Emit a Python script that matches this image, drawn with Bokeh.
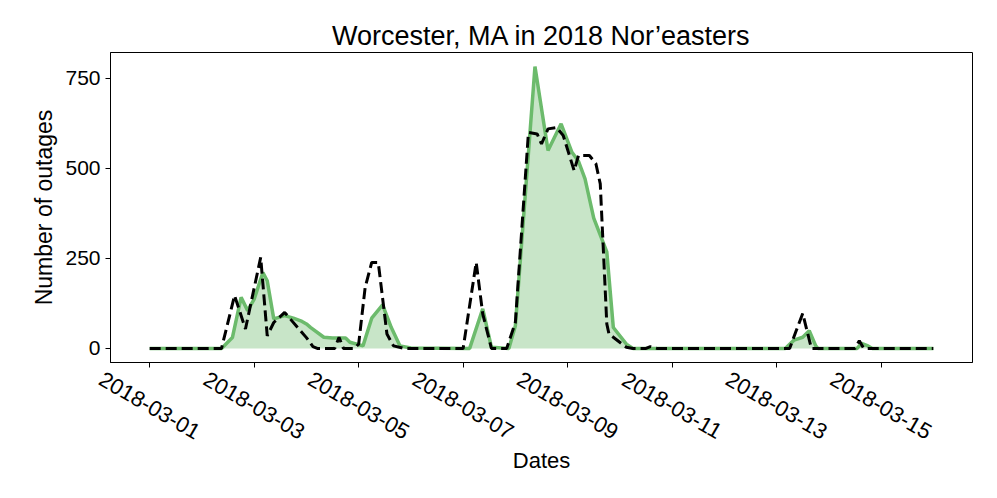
import numpy as np
import pandas as pd
from bokeh.plotting import figure
from bokeh.layouts import column
from bokeh.models import Range1d, FixedTicker
from bokeh.core.properties import value
from bokeh.embed import file_html
from bokeh.resources import INLINE

start = pd.Timestamp("2018-03-01")

# observed outages (green), hours since 2018-03-01 00:00
obs_hours = [0, 33, 38, 42, 45, 48, 52, 54, 57, 62, 66, 70, 72, 74, 80, 84, 90, 92, 98,
             102, 107, 111, 115, 120, 147, 153, 157, 165, 168, 177, 183, 189, 194, 197,
             200, 204, 210, 213, 219, 222, 292, 296, 300, 303, 306, 307, 325, 327, 330,
             332, 360]
obs_values = [0, 0, 30, 142, 105, 137, 211, 188, 82, 91, 84, 75, 68, 58, 31, 29, 29, 17, 7,
              84, 121, 58, 7, 1, 0, 110, 3, 0, 63, 783, 550, 624, 545, 520,
              471, 362, 268, 58, 12, 0, 0, 23, 31, 49, 7, 0, 0, 14, 7,
              0, 0]

# predicted outages (black dashed)
pred_hours = [0, 33, 39, 44, 51, 54, 57, 62, 68, 72, 75, 77, 85, 87, 89, 94, 96, 99, 102,
              105, 109, 112, 117, 144, 150, 153, 157, 164, 168, 174, 178, 180, 183, 187,
              190, 195, 197, 202, 205, 207, 208, 210, 211, 219, 222, 228, 230, 233, 294,
              297, 300, 304, 324, 326, 328, 360]
pred_values = [0, 0, 147, 54, 253, 35, 72, 100, 58, 30, 5, 0, 0, 31, 0, 0, 12, 170, 239,
               239, 40, 7, 0, 0, 239, 96, 0, 0, 72, 600, 596, 568, 610, 614,
               591, 494, 536, 536, 513, 457, 327, 68, 40, 3, 0, 0, 5, 0, 0,
               49, 97, 0, 0, 21, 0, 0]

tick_dates = ["2018-03-01", "2018-03-03", "2018-03-05", "2018-03-07",
              "2018-03-09", "2018-03-11", "2018-03-13", "2018-03-15"]
y_ticks = [0, 250, 500, 750]

obs_x = [start + pd.Timedelta(hours=h) for h in obs_hours]
pred_x = [start + pd.Timedelta(hours=h) for h in pred_hours]

def ms(t):
    return pd.Timestamp(t).value / 1e6

tick_ms = [ms(d) for d in tick_dates]
x0 = ms(start)
x1 = ms(start + pd.Timedelta(hours=360))
xpad = (x1 - x0) * 0.05
ymax = max(obs_values)
ypad = ymax * 0.05

FONT = "Liberation Sans"
W = 981
LEFT, RIGHT, TOP = 110, 9, 52
H1, BOTTOM1 = 368, 6
H2 = 114

xa, xb = x0 - xpad, x1 + xpad

p = figure(width=W, height=H1, x_axis_type="datetime",
           output_backend="svg", toolbar_location=None,
           x_range=Range1d(xa, xb),
           y_range=Range1d(-ypad, ymax + ypad),
           min_border_left=LEFT, min_border_right=RIGHT,
           min_border_top=TOP, min_border_bottom=BOTTOM1,
           title="Worcester, MA in 2018 Nor\u2019easters")
p.frame_align = False

p.title.text_font = FONT
p.title.text_font_size = "27px"
p.title.text_font_style = "normal"
p.title.align = "center"
p.title.text_color = "black"
p.title.standoff = 4

p.varea(x=obs_x, y1=[0] * len(obs_x), y2=obs_values, fill_color="#c8e5c8", fill_alpha=1.0)
p.line(obs_x, obs_values, line_color="#6cbb6c", line_width=3.5)
p.line(pred_x, pred_values, line_color="black", line_width=3, line_dash="11 5")

p.xgrid.visible = False
p.ygrid.visible = False
p.outline_line_color = "black"
p.outline_line_width = 1
p.outline_line_alpha = 1.0

# x axis: tick marks only; the rotated date labels are drawn centred under them below
p.xaxis.ticker = FixedTicker(ticks=tick_ms)
p.xaxis.major_label_overrides = {t: "" for t in tick_ms}
p.xaxis.major_label_text_font_size = "0px"
p.xaxis.major_label_standoff = 0
p.yaxis.ticker = FixedTicker(ticks=y_ticks)

for ax in (p.xaxis, p.yaxis):
    ax.axis_line_color = "black"
    ax.major_tick_line_color = "black"
    ax.major_tick_in = 0
    ax.major_tick_out = 5
    ax.minor_tick_line_color = None

p.yaxis.major_label_text_font = FONT
p.yaxis.major_label_text_font_size = "21px"
p.yaxis.major_label_text_color = "black"
p.yaxis.axis_label = "Number of outages"
p.yaxis.axis_label_text_font = FONT
p.yaxis.axis_label_text_font_size = "23px"
p.yaxis.axis_label_text_font_style = "normal"
p.yaxis.axis_label_text_color = "black"

# strip below the plot, sharing the same horizontal scale, for the date labels
k = (W - LEFT - RIGHT) / (xb - xa)
p2 = figure(width=W, height=H2, output_backend="svg", toolbar_location=None,
            x_range=Range1d(xa - LEFT / k, xb + RIGHT / k), y_range=Range1d(0, H2),
            x_axis_location=None, y_axis_location=None,
            min_border=0, min_border_left=0, min_border_right=0,
            min_border_top=0, min_border_bottom=0)
p2.frame_align = False
p2.outline_line_color = None
p2.xgrid.visible = False
p2.ygrid.visible = False

p2.text(x=tick_ms, y=H2 - 37, text=tick_dates, angle=-np.pi / 6,
        text_align="center", text_baseline="middle",
        text_font=value(FONT), text_font_size=value("22px"), text_color="black")
p2.text(x=[(xa + xb) / 2], y=H2 - 92, text=["Dates"],
        text_align="center", text_baseline="middle",
        text_font=value(FONT), text_font_size=value("22px"), text_color="black")

layout = column(p, p2, spacing=0)
open("out.html", "w").write(file_html(layout, INLINE))
